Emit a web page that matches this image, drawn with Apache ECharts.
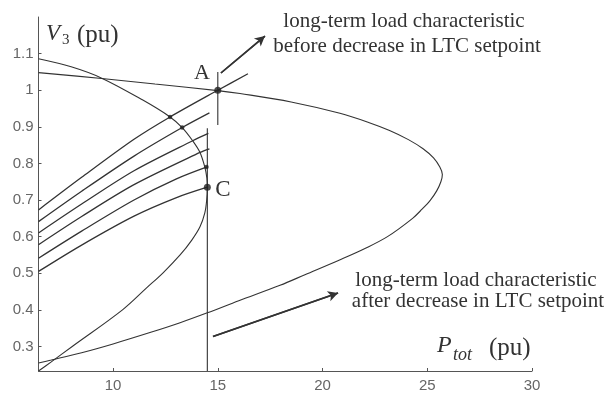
<!DOCTYPE html>
<html>
<head>
<meta charset="utf-8">
<script src="https://cdn.jsdelivr.net/npm/echarts@6.0.0/dist/echarts.min.js"></script>
<style>
html,body{margin:0;padding:0;background:#fff}
#main{width:610px;height:393px}
</style>
</head>
<body>
<div id="main"></div>
<script>
// axis ticks
var xTicks=[10,15,20,25,30]
var yTicks=[0.3,0.4,0.5,0.6,0.7,0.8,0.9,1.0,1.1]

// network PV curve, before the LTC setpoint change
var pvBeforeP=[6.44,9.46,12,15,16.06,18.5,20.83,22.2,23.2,24.1,24.8,25.3,25.6,25.72,25.65,25.45,25.15,24.75,24.3,23.1,22.0,20.84,19.16,17.97,16,14.5,13.2,11.76,10,8.5,7.05,6.44]
var pvBeforeV=[1.048,1.032,1.017,0.999,0.991,0.968,0.937,0.912,0.89,0.865,0.84,0.815,0.79,0.77,0.75,0.725,0.70,0.675,0.65,0.60,0.567,0.537,0.496,0.467,0.425,0.392,0.365,0.338,0.307,0.283,0.263,0.255]

// network PV curve through C
var pvAfterP=[6.44,8,9.46,11.42,12.72,13.3,13.8,14.15,14.38,14.48,14.5,14.47,14.38,14.15,13.75,13.2,12.4,11.6,10.45,8.05,7.05,6.44]
var pvAfterV=[1.086,1.064,1.033,0.973,0.927,0.898,0.862,0.83,0.79,0.76,0.735,0.70,0.665,0.627,0.59,0.55,0.502,0.46,0.40,0.30,0.258,0.233]

// short-term load characteristics (top to bottom)
var load1P=[6.44,8.5,11,12.72,15,16.44],load1V=[0.673,0.762,0.866,0.927,1.0,1.045]
var load2P=[6.44,8.5,11,13.3,14.6],load2V=[0.641,0.724,0.82,0.898,0.938]
var load3P=[6.44,8.5,11,13.8,14.55],load3V=[0.61,0.689,0.78,0.862,0.882]
var load4P=[6.44,8.5,11,14.15,14.6],load4V=[0.578,0.655,0.742,0.83,0.84]
var load5P=[6.44,8.5,11,13,14.52],load5V=[0.541,0.615,0.70,0.757,0.791]
var load6P=[6.44,8.5,11,13,14.5],load6V=[0.505,0.577,0.656,0.706,0.735]

// long-term load characteristics (vertical)
var ltAfterP=[14.5,14.5],ltAfterV=[0.233,0.896]
var ltBeforeP=[15,15],ltBeforeV=[0.905,1.05]

// operating points
var bigDotP=[15,14.5],bigDotV=[1.0,0.735]
var smallDotP=[12.72,13.3,14.46],smallDotV=[0.927,0.898,0.79]

// annotation arrows [from, to]
var arrowTopP=[15.15,17.25],arrowTopV=[1.047,1.148]
var arrowLowP=[14.77,20.74],arrowLowV=[0.327,0.446]

function pts(p,v){
	var d=[]
	for(var i=0;i<p.length;i++){d.push([p[i],v[i]])}
	return d
}

var ink="#333"
var serif='"Liberation Serif", "DejaVu Serif", serif'

function curve(p,v,w,sm){
	return {type:"line",data:pts(p,v),showSymbol:false,smooth:sm,silent:true,
		lineStyle:{color:ink,width:w},z:2}
}
function arrow(p,v){
	return {type:"line",data:pts(p,v),showSymbol:false,silent:true,
		lineStyle:{color:ink,width:1.6},
		markLine:{silent:true,symbol:["none","arrow"],symbolSize:[8,10],label:{show:false},
			lineStyle:{color:ink,width:1.6,type:"solid"},
			data:[[{coord:[p[0],v[0]]},{coord:[p[1],v[1]]}]]}}
}

var mychart=echarts.init(document.getElementById("main"),null,{renderer:"canvas"})
var option={
	animation:false,
	grid:{left:38.5,right:78,top:17,bottom:22},
	xAxis:{
		type:"value",min:6.44,max:30,
		axisLine:{lineStyle:{color:"#555",width:1}},
		axisTick:{inside:true,length:3,customValues:xTicks,lineStyle:{color:"#555"}},
		axisLabel:{customValues:xTicks,color:"#666",fontSize:15,fontFamily:"Liberation Sans",margin:7},
		splitLine:{show:false}
	},
	yAxis:{
		type:"value",min:0.233,max:1.2,
		axisLine:{show:true,lineStyle:{color:"#555",width:1}},
		axisTick:{show:true,inside:true,length:3,customValues:yTicks,lineStyle:{color:"#555"}},
		axisLabel:{customValues:yTicks,color:"#666",fontSize:15,fontFamily:"Liberation Sans",margin:5,
			formatter:function(v){return String(Math.round(v*10)/10)}},
		splitLine:{show:false}
	},
	series:[
		curve(pvBeforeP,pvBeforeV,1.1,0.35),
		curve(pvAfterP,pvAfterV,1.1,0.35),
		curve(load1P,load1V,1.3,0.3),
		curve(load2P,load2V,1.3,0.3),
		curve(load3P,load3V,1.3,0.3),
		curve(load4P,load4V,1.3,0.3),
		curve(load5P,load5V,1.3,0.3),
		curve(load6P,load6V,1.3,0.3),
		curve(ltAfterP,ltAfterV,1.1,false),
		curve(ltBeforeP,ltBeforeV,1.1,false),
		{type:"scatter",data:pts(bigDotP,bigDotV),symbolSize:7,itemStyle:{color:"#222"},z:5,silent:true},
		{type:"scatter",data:pts(smallDotP,smallDotV),symbolSize:4.5,itemStyle:{color:"#222"},z:5,silent:true},
		arrow(arrowTopP,arrowTopV),
		arrow(arrowLowP,arrowLowV)
	],
	graphic:[
		{type:"text",x:46,y:34,style:{text:"V",font:"italic 23px "+serif,fill:"#333",verticalAlign:"middle"}},
		{type:"text",x:62,y:40,style:{text:"3",font:"15px "+serif,fill:"#333",verticalAlign:"middle"}},
		{type:"text",x:77,y:35,style:{text:"(pu)",font:"25px "+serif,fill:"#333",verticalAlign:"middle"}},
		{type:"text",x:437,y:346,style:{text:"P",font:"italic 24px "+serif,fill:"#333",verticalAlign:"middle"}},
		{type:"text",x:453,y:355,style:{text:"tot",font:"italic 18px "+serif,fill:"#333",verticalAlign:"middle"}},
		{type:"text",x:489,y:348,style:{text:"(pu)",font:"25px "+serif,fill:"#333",verticalAlign:"middle"}},
		{type:"text",x:202,y:73,style:{text:"A",font:"22px "+serif,fill:"#333",align:"center",verticalAlign:"middle"}},
		{type:"text",x:223,y:190,style:{text:"C",font:"23px "+serif,fill:"#333",align:"center",verticalAlign:"middle"}},
		{type:"text",x:404,y:21,style:{text:"long-term load characteristic",font:"21px "+serif,fill:"#333",align:"center",verticalAlign:"middle"}},
		{type:"text",x:407,y:46,style:{text:"before decrease in LTC setpoint",font:"21px "+serif,fill:"#333",align:"center",verticalAlign:"middle"}},
		{type:"text",x:476,y:280,style:{text:"long-term load characteristic",font:"21px "+serif,fill:"#333",align:"center",verticalAlign:"middle"}},
		{type:"text",x:478,y:301,style:{text:"after decrease in LTC setpoint",font:"21px "+serif,fill:"#333",align:"center",verticalAlign:"middle"}}
	]
}
mychart.setOption(option)
</script>
</body>
</html>
